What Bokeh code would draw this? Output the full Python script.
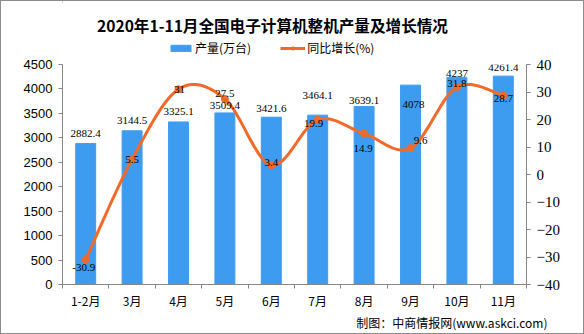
import numpy as np
from bokeh.plotting import figure
from bokeh.layouts import column
from bokeh.models import (Range1d, LinearAxis, FixedTicker, ColumnDataSource,
                          LabelSet, Title, Legend, LegendItem)
from bokeh.core.properties import value
from bokeh.embed import file_html
from bokeh.resources import INLINE

# ---------------- data ----------------
categories = ["1-2月", "3月", "4月", "5月", "6月", "7月", "8月", "9月", "10月", "11月"]
output = [2882.4, 3144.5, 3325.1, 3509.4, 3421.6, 3464.1, 3639.1, 4078, 4237, 4261.4]
growth = [-30.9, 5.5, 31, 27.5, 3.4, 19.9, 14.9, 9.6, 31.8, 28.7]
output_ticks = [0, 500, 1000, 1500, 2000, 2500, 3000, 3500, 4000, 4500]
growth_ticks = [-40, -30, -20, -10, 0, 10, 20, 30, 40]
title_text = "2020年1-11月全国电子计算机整机产量及增长情况"
series_names = ["产量(万台)", "同比增长(%)"]
source_note = "制图：中商情报网(www.askci.com)"

# label nudges (screen px), positive = right / up
bar_label_dx = [0, 0, 0, 0, 0, 0, 0, 3, 0, 0]
bar_label_dy = [10, 10, 10, 7, 9, 20, 6, -19, 4, 9]
line_label_dx = [-2, 0, 1, 0, 0, -4, -1, 10, 0, 0]
line_label_dy = [-8, 0, 0, 5, 3, -4, -15, 8, 4, -3]

BLUE = "#3E9CF0"
ORANGE = "#F26A2A"
AXIS = "#868686"

n = len(categories)
xpos = np.arange(n) + 0.5

W = 582
HT = 55
BL, BR = 61, 57          # left / right borders of the plotting frame

# ---------------- header strip: title + legend ----------------
# frame is aligned with the main chart frame; data units = canvas pixels
top = figure(width=W, height=HT, output_backend="svg", toolbar_location=None,
             x_range=Range1d(BL, W - BR), y_range=Range1d(HT, 0),
             x_axis_location=None, y_axis_location=None,
             min_border_left=BL, min_border_right=BR, min_border_top=0, min_border_bottom=0)
top.outline_line_color = None
top.xgrid.visible = False
top.ygrid.visible = False
top.text(x=[271], y=[23.5], text=[title_text], text_align="center", text_baseline="middle",
         text_font=value("Noto Sans CJK SC"), text_font_style="bold",
         text_font_size="15.6px", text_color="black")
# legend swatch renderers (kept off-screen)
lb = top.vbar(x=[-1000], top=[1], width=1, color=BLUE)
ll = top.line(x=[-1000, -999], y=[1, 1], line_color=ORANGE, line_width=3)
ls = top.scatter(x=[-1000], y=[1], size=7, fill_color=ORANGE, line_color=ORANGE)
legend = Legend(items=[LegendItem(label=series_names[0], renderers=[lb]),
                       LegendItem(label=series_names[1], renderers=[ll, ls])],
                location=(167 - BL, 0), orientation="horizontal",
                glyph_width=25, glyph_height=8, label_height=14, label_standoff=2,
                spacing=29, padding=0, margin=0, border_line_color=None,
                background_fill_alpha=0,
                label_text_font="Noto Sans CJK SC", label_text_font_size="12px",
                label_text_color="black")
top.add_layout(legend)

# ---------------- main chart ----------------
p = figure(width=W, height=332 - HT, output_backend="svg", toolbar_location=None,
           x_range=Range1d(0, n), y_range=Range1d(0, 4500),
           min_border_left=BL, min_border_right=BR, min_border_top=8, min_border_bottom=49)
p.extra_y_ranges = {"pct": Range1d(-40, 40)}
p.outline_line_color = None
p.xgrid.visible = False
p.ygrid.visible = False

# bars
src = ColumnDataSource(dict(x=xpos, top=output,
                            lab=[f"{v:g}" for v in output],
                            dx=bar_label_dx, dy=bar_label_dy))
p.vbar(x="x", top="top", width=0.43, source=src, color=BLUE)

# smooth line (Catmull-Rom style bezier through the data points)
P = np.column_stack([xpos, np.array(growth, dtype=float)])
Pe = np.vstack([P[0], P, P[-1]])
t = np.linspace(0, 1, 30)[:, None]
pts = []
for i in range(n - 1):
    p0 = Pe[i + 1]
    p3 = Pe[i + 2]
    c1 = p0 + (Pe[i + 2] - Pe[i]) / 6.0
    c2 = p3 - (Pe[i + 3] - Pe[i + 1]) / 6.0
    seg = ((1 - t) ** 3) * p0 + 3 * ((1 - t) ** 2) * t * c1 + 3 * (1 - t) * t ** 2 * c2 + t ** 3 * p3
    pts.append(seg if i == 0 else seg[1:])
curve = np.vstack(pts)
p.line(curve[:, 0], curve[:, 1], y_range_name="pct", line_color=ORANGE,
       line_width=3, line_cap="round", line_join="round")
lsrc = ColumnDataSource(dict(x=xpos, y=growth, lab=[f"{v:g}" for v in growth],
                             dx=line_label_dx, dy=line_label_dy))
p.scatter("x", "y", source=lsrc, y_range_name="pct", size=7,
          fill_color=ORANGE, line_color=ORANGE)

# value labels
p.add_layout(LabelSet(x="x", y="top", text="lab", source=src, x_offset="dx", y_offset="dy",
                      text_align="center", text_baseline="middle",
                      text_font="Liberation Mono", text_font_size="11px", text_color="black"))
p.add_layout(LabelSet(x="x", y="y", text="lab", source=lsrc, y_range_name="pct",
                      x_offset="dx", y_offset="dy",
                      text_align="center", text_baseline="middle",
                      text_font="Liberation Mono", text_font_size="11px", text_color="black"))

# axes
xa = p.xaxis[0]
xa.ticker = FixedTicker(ticks=list(xpos), minor_ticks=list(range(n + 1)))
xa.major_label_overrides = {float(x): c for x, c in zip(xpos, categories)}
xa.major_tick_line_color = None
xa.major_tick_in = 0
xa.major_tick_out = 4
xa.minor_tick_in = 0
xa.minor_tick_out = 4
xa.minor_tick_line_color = AXIS
xa.axis_line_color = AXIS
xa.major_label_standoff = 3
xa.major_label_text_font = "Noto Sans CJK SC"
xa.major_label_text_font_size = "12px"
xa.major_label_text_color = "black"

ya = p.yaxis[0]
ya.ticker = FixedTicker(ticks=output_ticks)
ya.axis_line_color = AXIS
ya.major_tick_line_color = AXIS
ya.major_tick_in = 0
ya.major_tick_out = 4
ya.minor_tick_line_color = None
ya.major_label_standoff = 6
ya.major_label_text_font = "Liberation Sans"
ya.major_label_text_font_size = "13px"
ya.major_label_text_color = "black"

ra = LinearAxis(y_range_name="pct", ticker=FixedTicker(ticks=growth_ticks))
ra.major_label_overrides = {v: (f"\u2212{abs(v)}" if v < 0 else str(v)) for v in growth_ticks}
ra.axis_line_color = AXIS
ra.major_tick_line_color = AXIS
ra.major_tick_in = 0
ra.major_tick_out = 4
ra.minor_tick_line_color = None
ra.major_label_standoff = 6
ra.major_label_text_font = "Liberation Serif"
ra.major_label_text_font_size = "15px"
ra.major_label_text_color = "black"
p.add_layout(ra, "right")

# source note
p.add_layout(Title(text=source_note, align="right", offset=-21,
                   text_font="Noto Sans CJK SC", text_font_size="12px",
                   text_font_style="normal", text_color="black", standoff=0), "below")

layout = column(top, p, spacing=0, styles={"border": "1px solid #8c8c8c", "background-color": "white"})
open("out.html", "w").write(file_html(layout, INLINE))
